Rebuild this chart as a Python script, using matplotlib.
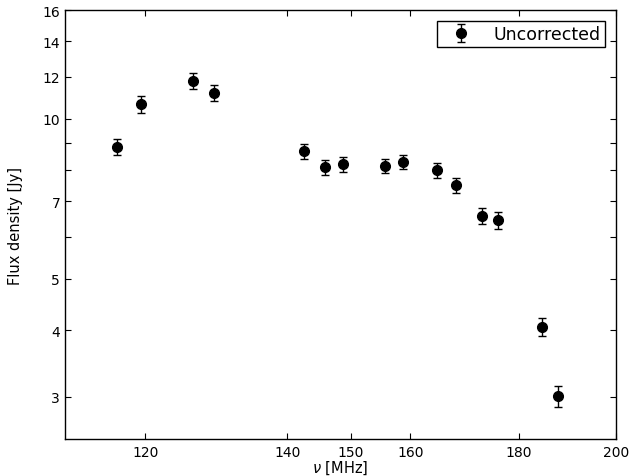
import matplotlib
matplotlib.use('Agg')
import matplotlib.pyplot as plt
from matplotlib.ticker import FixedLocator, NullFormatter, ScalarFormatter

# frequencies [MHz] and flux densities [Jy]
freq = [116.4, 119.5, 126.4, 129.3, 142.6, 145.8, 148.8, 155.6, 158.7,
        164.8, 168.2, 172.9, 175.9, 184.5, 187.8]
flux = [8.84, 10.65, 11.77, 11.17, 8.69, 8.11, 8.21, 8.15, 8.30,
        8.01, 7.50, 6.56, 6.45, 4.06, 3.01]
flux_err = [0.31, 0.39, 0.41, 0.39, 0.28, 0.26, 0.27, 0.26, 0.25,
            0.26, 0.24, 0.23, 0.24, 0.16, 0.14]

xticks = [120, 140, 150, 160, 180, 200]
yticks = [3, 4, 5, 7, 10, 12, 14, 16]

plt.rcParams['xtick.direction'] = 'in'
plt.rcParams['ytick.direction'] = 'in'
plt.rcParams['xtick.top'] = True
plt.rcParams['ytick.right'] = True

fig = plt.figure(figsize=(6.31, 4.77), dpi=100)
ax = fig.add_axes([0.103, 0.0776, 0.873, 0.899])

ax.errorbar(freq, flux, yerr=flux_err, fmt='o', color='black', ms=7,
            capsize=3, elinewidth=1, capthick=1, label='Uncorrected')

ax.set_xscale('log')
ax.set_yscale('log')
ax.set_xlim(110, 200)
ax.set_ylim(2.5, 16)

ax.xaxis.set_major_locator(FixedLocator(xticks))
ax.xaxis.set_major_formatter(ScalarFormatter())
ax.xaxis.set_minor_locator(FixedLocator([]))
ax.yaxis.set_major_locator(FixedLocator(yticks))
ax.yaxis.set_major_formatter(ScalarFormatter())
ax.yaxis.set_minor_locator(FixedLocator([6, 8, 9]))
ax.yaxis.set_minor_formatter(NullFormatter())

ax.tick_params(which='both', length=4, width=0.8, labelsize=10)
ax.tick_params(axis='x', pad=4)

for s in ax.spines.values():
    s.set_linewidth(1.0)

ax.set_xlabel(r'$\nu$ [MHz]', fontsize=10.5, labelpad=0)
ax.set_ylabel('Flux density [Jy]', fontsize=10.5, labelpad=14)

leg = ax.legend(loc='upper right', numpoints=1, fontsize=12.5, fancybox=False,
                framealpha=1, edgecolor='black', borderaxespad=0.6,
                borderpad=0.25, handlelength=2.35, handletextpad=0.7)
leg.get_frame().set_linewidth(1.0)

fig.savefig('out.png', dpi=100)
